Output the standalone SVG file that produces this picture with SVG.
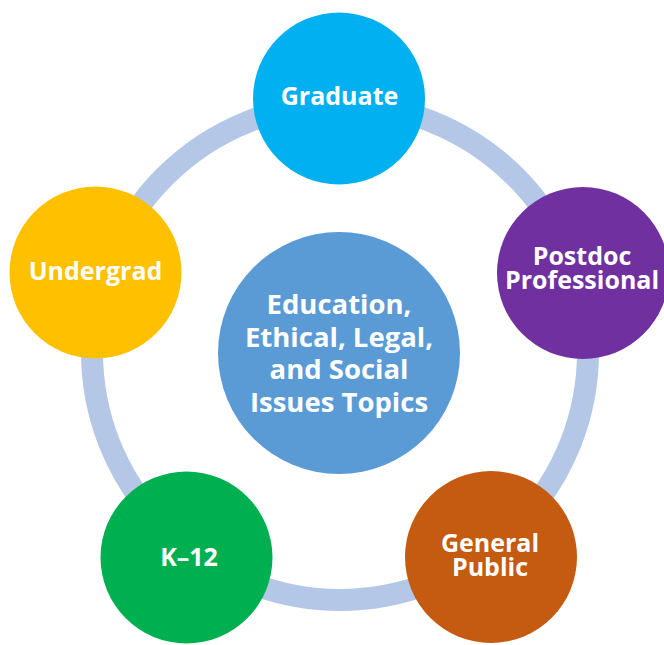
<svg xmlns="http://www.w3.org/2000/svg" width="664" height="645" viewBox="0 0 664 645">
  <style>
    .lbl { font-family: "Open Sans", "Noto Sans", "Liberation Sans", sans-serif; font-weight: bold; fill: #ffffff; text-anchor: middle; font-size: 25px; }
    .ctr { font-size: 27.5px; }
  </style>
  <rect width="664" height="645" fill="#ffffff"/>
  <g id="connectors">
    <circle cx="340" cy="352" r="248" fill="none" stroke="#b4c7e7" stroke-width="22"/>
  </g>
  <g id="center">
    <circle cx="339" cy="353" r="121" fill="#5b9bd5"/>
    <text class="lbl ctr" x="339" y="314">Education,</text>
    <text class="lbl ctr" x="339" y="347">Ethical, Legal,</text>
    <text class="lbl ctr" x="339" y="379">and Social</text>
    <text class="lbl ctr" x="339" y="412">Issues Topics</text>
  </g>
  <g id="graduate">
    <circle cx="339" cy="98.5" r="86" fill="#00b0f0"/>
    <text class="lbl" x="339.5" y="105">Graduate</text>
  </g>
  <g id="postdoc">
    <circle cx="583" cy="273" r="86" fill="#7030a0"/>
    <text class="lbl" x="582" y="265">Postdoc</text>
    <text class="lbl" x="582" y="289">Professional</text>
  </g>
  <g id="undergrad">
    <circle cx="95.5" cy="272.5" r="86" fill="#ffc000"/>
    <text class="lbl" x="95.5" y="280">Undergrad</text>
  </g>
  <g id="k12">
    <circle cx="186.5" cy="557.5" r="86" fill="#00b050"/>
    <text class="lbl" x="189" y="566">K–12</text>
  </g>
  <g id="general-public">
    <circle cx="491" cy="557" r="86" fill="#c55a11"/>
    <text class="lbl" x="490" y="552">General</text>
    <text class="lbl" x="490" y="576">Public</text>
  </g>
</svg>
